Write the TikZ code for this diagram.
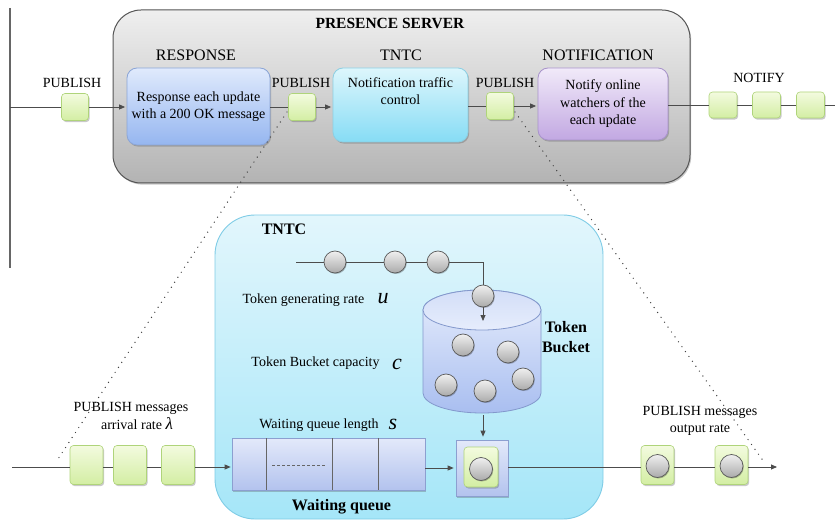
\documentclass[tikz,border=0pt]{standalone}
\usepackage{fontspec}
\setmainfont{Liberation Serif}
\usetikzlibrary{arrows.meta,shadows}
\definecolor{gtop}{HTML}{F3FBDF}
\definecolor{gbot}{HTML}{D3EEA3}
\definecolor{gbord}{HTML}{AFD47A}
\definecolor{srvtop}{HTML}{EFEFEF}
\definecolor{srvbot}{HTML}{B3B3B3}
\definecolor{srvbord}{HTML}{555555}
\definecolor{resptop}{HTML}{E0EAFC}
\definecolor{respbot}{HTML}{95B6F0}
\definecolor{respbord}{HTML}{8BA5D6}
\definecolor{tntctop}{HTML}{DDF6FC}
\definecolor{tntcbot}{HTML}{86DCF5}
\definecolor{tntcbord}{HTML}{8CCFE3}
\definecolor{nottop}{HTML}{F1EAF9}
\definecolor{notbot}{HTML}{C2A8E2}
\definecolor{notbord}{HTML}{A893CB}
\definecolor{bigtop}{HTML}{E2F6FC}
\definecolor{bigbot}{HTML}{A5E6F8}
\definecolor{bigbord}{HTML}{7FCCE6}
\definecolor{qtop}{HTML}{E3E9FA}
\definecolor{qbot}{HTML}{B3C3EE}
\definecolor{qbord}{HTML}{8C9FD0}
\definecolor{cyltop}{HTML}{E6EDFC}
\definecolor{cylbot}{HTML}{A9BEF0}
\definecolor{cylbord}{HTML}{8398CC}
\definecolor{cylface}{HTML}{D3DEF8}
\begin{document}
\begin{tikzpicture}[x=1pt,y=1pt,
  font=\fontsize{14}{17.5}\selectfont,
  conn/.style={draw=black!70, line width=0.8pt},
  arr/.style={conn, -{Triangle[length=6pt,width=5pt]}},
  dots/.style={draw=black!75, line width=1.4pt, line cap=round, dash pattern=on 0pt off 6pt},
  shad/.style={drop shadow={shadow xshift=1.2pt, shadow yshift=-1.6pt, opacity=0.3, fill=black!70}},
  gbox/.style={draw=gbord, line width=0.6pt, rounded corners=3.5pt, top color=gtop, bottom color=gbot, inner sep=0pt, shad},
  gsmall/.style={gbox, minimum width=27pt, minimum height=27pt},
  gbig/.style={gbox, minimum width=33pt, minimum height=39pt},
  ball/.style={circle, draw=black!65, line width=0.7pt, top color=black!6, bottom color=black!33, minimum size=22pt, inner sep=0pt,
     drop shadow={shadow xshift=0.8pt, shadow yshift=-1pt, opacity=0.25, fill=black}},
  hdr/.style={font=\fontsize{16}{18}\selectfont},
  bold/.style={font=\fontsize{16}{20}\selectfont\bfseries, align=center},
  pbox/.style={rounded corners=10pt, line width=0.8pt, align=center, inner sep=0pt, shad},
  var/.style={font=\fontsize{22}{22}\selectfont\itshape}
]
\useasboundingbox (0,0) rectangle (835,-521);
% left vertical line
\draw[line width=1.3pt, black!60] (10,-8) -- (10,-268);

% presence server
\node[draw=srvbord, line width=1pt, rounded corners=28pt, top color=srvtop, bottom color=srvbot,
      minimum width=577pt, minimum height=173pt, shad] (server) at (401.5,-96.5) {};
\node[font=\fontsize{15.5}{18}\selectfont\bfseries] (srvlbl) at (390,-23) {PRESENCE SERVER};
\node[hdr] (resplbl) at (196,-55) {RESPONSE};
\node[hdr] (tntclbl) at (401,-55) {TNTC};
\node[hdr] (notlbl) at (598,-55) {NOTIFICATION};

\node[pbox, draw=respbord, top color=resptop, bottom color=respbot, minimum width=143pt, minimum height=77pt]
  (resp) at (198.5,-106.5) {Response each update\\with a 200 OK message};
\node[pbox, draw=tntcbord, top color=tntctop, bottom color=tntcbot, minimum width=135pt, minimum height=74pt]
  (tntc) at (400.5,-105) {Notification traffic\\control\\[10pt]};
\node[pbox, draw=notbord, top color=nottop, bottom color=notbot, minimum width=130pt, minimum height=72pt]
  (notif) at (603,-104) {Notify online\\watchers of the\\each update};

\node[gsmall] (pub1) at (75,-107) {};
\node[gsmall] (pub2) at (302,-107) {};
\node[gsmall] (pub3) at (500,-106) {};
\node (pub1lbl) at (72,-83) {PUBLISH};
\node (pub2lbl) at (301,-83) {PUBLISH};
\node (pub3lbl) at (505,-83) {PUBLISH};

\node[gsmall, minimum width=28pt, minimum height=26pt] (n1) at (723,-105) {};
\node[gsmall, minimum width=28pt, minimum height=26pt] (n2) at (766.5,-105) {};
\node[gsmall, minimum width=28pt, minimum height=26pt] (n3) at (810.5,-105) {};
\node (notifylbl) at (759,-78) {NOTIFY};

\coordinate (in0) at (10,-107);
\coordinate (nend) at (835,-105);
\draw[conn] (in0) -- (pub1.west);
\draw[arr, shorten >=1.5pt] (pub1.east) -- (pub1 -| resp.west);
\draw[conn] (resp.east |- pub2) -- (pub2.west);
\draw[arr, shorten >=1.5pt] (pub2.east) -- (pub2 -| tntc.west);
\draw[conn] (tntc.east |- pub3) -- (pub3.west);
\draw[arr, shorten >=1.5pt] (pub3.east) -- (pub3 -| notif.west);
\draw[conn] (notif.east |- n1) -- (n1.west);
\draw[conn] (n1.east) -- (n2.west);
\draw[conn] (n2.east) -- (n3.west);
\draw[conn] (n3.east) -- (nend);

% dotted zoom lines
\coordinate (d1a) at (287,-112);
\coordinate (d1b) at (56,-462);
\coordinate (d2a) at (515,-112);
\coordinate (d2b) at (764,-462);
\draw[dots] (d1a) -- (d1b);
\draw[dots] (d2a) -- (d2b);

% big TNTC box
\node[draw=bigbord, line width=0.9pt, rounded corners=40pt, top color=bigtop, bottom color=bigbot,
      minimum width=388pt, minimum height=304pt] (big) at (409,-367) {};
\node[bold] (biglbl) at (284,-229) {TNTC};

% token bucket cylinder
\shade[top color=cyltop, bottom color=cylbot, draw=cylbord, line width=0.8pt]
  (423,-310) -- (423,-393) arc[start angle=180, end angle=360, x radius=59pt, y radius=20pt]
  -- (541,-310) arc[start angle=0, end angle=180, x radius=59pt, y radius=20pt] -- cycle;
\shade[top color=cylface, bottom color=cyltop, draw=cylbord, line width=0.8pt]
  (482,-310) ellipse[x radius=59pt, y radius=20pt];
\coordinate (cylin) at (483,-321);
\coordinate (cylbot) at (483,-415);
\node[bold] (tblbl) at (566,-337) {Token\\Bucket};

\node[ball] (k1) at (463,-345) {};
\node[ball] (k2) at (508,-352) {};
\node[ball] (k3) at (446,-385) {};
\node[ball] (k4) at (485,-391) {};
\node[ball] (k5) at (523,-379) {};

% token stream
\coordinate (tstart) at (296,-262);
\coordinate (tcorner) at (483,-262);
\node[ball] (t1) at (335,-262) {};
\node[ball] (t2) at (395,-262) {};
\node[ball] (t3) at (438,-262) {};
\node[ball] (t4) at (483,-296) {};
\draw[conn] (tstart) -- (t1.west);
\draw[conn] (t1.east) -- (t2.west);
\draw[conn] (t2.east) -- (t3.west);
\draw[conn] (t3.east) -- (tcorner) -- (t4.north);
\draw[arr] (t4.south) -- (cylin);

\node (rate) at (303.5,-300) {Token generating rate};
\node[var] (uvar) at (383,-299) {u};
\node (cap) at (315.5,-363) {Token Bucket capacity};
\node[var] (cvar) at (397,-364) {c};
\node (qlen) at (319,-425) {Waiting queue length};
\node[var] (svar) at (393,-424) {s};

% waiting queue
\node[draw=qbord, line width=0.7pt, top color=qtop, bottom color=qbot, minimum width=193pt, minimum height=52pt, inner sep=0pt, shad]
  (queue) at (328.5,-464) {};
\draw[black!60, line width=0.7pt] (266,-438) -- (266,-490) (332,-438) -- (332,-490) (378,-438) -- (378,-490);
\draw[black!60, line width=0.7pt, dash pattern=on 3pt off 2pt] (272,-465) -- (325,-465);
\node[bold] (qlbl) at (341.5,-507) {Waiting queue};

% output box
\node[draw=qbord, line width=0.7pt, top color=qtop, bottom color=qbot, minimum width=52pt, minimum height=56pt, inner sep=0pt, shad]
  (outbox) at (482,-468) {};
\node[gbox, minimum width=34pt, minimum height=40pt] (outg) at (481,-467) {};
\node[ball, minimum size=23pt] (outk) at (481,-469) {};
\draw[arr, shorten >=3pt] (cylbot) -- (cylbot |- outbox.north);
\draw[arr, shorten >=2pt] (queue.east |- outbox) -- (outbox.west);

% input stream
\coordinate (bin0) at (12,-467);
\node[gbig] (a1) at (86.5,-465) {};
\node[gbig] (a2) at (130,-465) {};
\node[gbig] (a3) at (178,-465) {};
\draw[conn] (bin0) -- (a1.west |- bin0);
\draw[conn] (a1.east |- bin0) -- (a2.west |- bin0);
\draw[conn] (a2.east |- bin0) -- (a3.west |- bin0);
\draw[arr, shorten >=1pt] (a3.east |- bin0) -- (queue.west |- bin0);
\node[align=center] (inlbl) at (131,-416) {PUBLISH messages\\\hspace*{12pt}arrival rate {\fontsize{17}{17}\selectfont\itshape λ}};

% output stream
\node[gbig] (o1) at (657.5,-465) {};
\node[gbig] (o2) at (731.5,-465) {};
\node[ball, minimum size=23pt] (ok1) at (657.5,-466) {};
\node[ball, minimum size=23pt] (ok2) at (731.5,-466) {};
\coordinate (oend) at (777,-467);
\draw[conn] (outbox.east |- oend) -- (o1.west |- oend);
\draw[conn] (o1.east |- oend) -- (o2.west |- oend);
\draw[arr] (o2.east |- oend) -- (oend);
\node[align=center] (outlbl) at (700,-421) {PUBLISH messages\\output rate};
\end{tikzpicture}
\end{document}
